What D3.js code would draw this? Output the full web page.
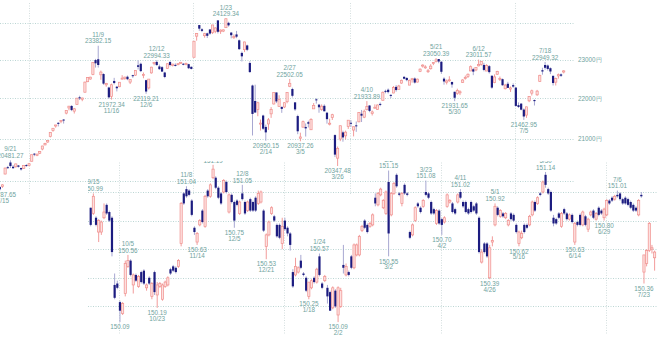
<!DOCTYPE html>
<html>
<head>
<meta charset="utf-8">
<script src="https://cdn.jsdelivr.net/npm/d3@7"></script>
<style>
  body { margin: 0; background: #fff; }
  svg { display: block; }
  text { font-family: "Liberation Sans", Arial, sans-serif; font-size: 6.3px; fill: #6fa39e; }
</style>
</head>
<body>
<svg id="chart" width="668" height="339"></svg>
<script>
// trading days shown, month by month (Sep 2017 - Jul 2018)
const sep17Days = [14,15,19,20,21,22,25,26,27,28,29];
const oct17Days = [2,3,4,5,6,10,11,12,13,16,17,18,19,20,23,24,25,26,27,30,31];
const nov17Days = [1,2,6,7,8,9,10,13,14,15,16,17,20,21,22,24,27,28,29,30];
const dec17Days = [1,4,5,6,7,8,11,12,13,14,15,18,19,20,21,22,25,26,27,28,29];
const jan18Days = [4,5,9,10,11,12,15,16,17,18,19,22,23,24,25,26,29,30,31];
const feb18Days = [1,2,5,6,7,8,9,13,14,15,16,19,20,21,22,23,26,27,28];
const mar18Days = [1,2,5,6,7,8,9,12,13,14,15,16,19,20,22,23,26,27,28,29,30];
const apr18Days = [2,3,4,5,6,9,10,11,12,13,16,17,18,19,20,23,24,25,26,27];
const may18Days = [1,2,7,8,9,10,11,14,15,16,17,18,21,22,23,24,25,28,29,30,31];
const jun18Days = [1,4,5,6,7,8,11,12,13,14,15,18,19,20,21,22,25,26,27,28,29];
const jul18Days = [2,3,4,5,6,9,10,11,12,13,17,18,19,20,23,24,25,26,27];

// upper chart: index (yen), [open, high, low, close]
const nkSep17 = [
  [19860,19880,19780,19807],[19870,19920,19840,19909],[20160,20310,20150,20299],[20320,20350,20280,20310],
  [20430,20481,20300,20347],[20330,20370,20280,20296],[20330,20400,20310,20397],[20360,20370,20310,20330],
  [20300,20310,20240,20267],[20290,20370,20280,20363],[20370,20390,20330,20356]];
const nkOct17 = [
  [20360,20420,20340,20400],[20460,20620,20450,20614],[20640,20650,20580,20626],[20600,20640,20580,20628],
  [20650,20700,20630,20690],[20750,20830,20720,20823],[20850,20900,20840,20881],[20920,20960,20900,20954],
  [21050,21160,21030,21155],[21200,21260,21170,21255],[21310,21340,21270,21336],[21390,21400,21300,21363],
  [21420,21450,21380,21448],[21470,21480,21370,21457],[21630,21700,21600,21696],[21760,21810,21700,21805],
  [21810,21830,21680,21707],[21680,21760,21620,21739],[21850,22010,21840,22008],[22030,22070,21960,22011],
  [21980,22020,21930,22011]];
const nkNov17 = [
  [22160,22430,22150,22420],[22430,22550,22420,22539],[22500,22560,22480,22548],[22620,22940,22600,22937],
  [23000,23030,22800,22913],[23020,23382,22800,22868],[22610,22720,22480,22681],[22630,22650,22350,22380],
  [22350,22400,22300,22380],[22280,22300,21990,22028],[22050,22380,21972,22351],[22450,22530,22360,22396],
  [22300,22320,22180,22261],[22300,22420,22290,22416],[22510,22600,22490,22523],[22510,22560,22480,22550],
  [22560,22590,22470,22495],[22420,22500,22370,22486],[22600,22610,22530,22597],[22600,22730,22580,22724]];
const nkDec17 = [
  [22860,22990,22750,22819],[22900,22930,22680,22707],[22600,22670,22520,22622],[22470,22480,22119,22177],
  [22270,22500,22230,22498],[22660,22820,22640,22811],[22920,22950,22860,22938],[22950,22994,22850,22866],
  [22830,22880,22740,22758],[22810,22840,22690,22694],[22670,22690,22520,22553],[22780,22910,22770,22901],
  [22950,22960,22830,22868],[22860,22900,22830,22891],[22870,22910,22830,22866],[22890,22920,22860,22902],
  [22910,22950,22900,22939],[22900,22920,22860,22892],[22900,22930,22860,22911],[22890,22900,22760,22783],
  [22820,22830,22750,22764]];
const nkJan18 = [
  [23073,23506,23065,23506],[23643,23730,23520,23714],[23948,23952,23789,23849],[23832,23864,23755,23788],
  [23656,23734,23601,23710],[23720,23739,23592,23653],[23827,23833,23682,23714],[23741,23955,23701,23951],
  [23778,23889,23722,23868],[24078,24084,23717,23763],[23777,23830,23705,23808],[23781,23829,23754,23816],
  [23876,24129,23868,24124],[24010,24040,23905,23940],[23741,23753,23583,23669],[23600,23689,23569,23631],
  [23690,23787,23588,23629],[23530,23554,23269,23291],[23189,23226,22962,23098]];
const nkFeb18 = [
  [23276,23492,23211,23486],[23391,23412,23236,23274],[22921,22967,22659,22682],[22332,22354,21078,21610],
  [21936,22353,21645,21645],[21722,21918,21553,21891],[21380,21470,21199,21382],[21570,21590,21215,21244],
  [21288,21344,20950,21154],[21362,21507,21217,21464],[21612,21781,21512,21720],[21860,22152,21848,22149],
  [22153,22153,21883,21925],[21800,22081,21796,21970],[21787,21793,21637,21736],[21784,21903,21756,21892],
  [21917,22155,21877,22153],[22313,22502,22290,22389],[22241,22275,22025,22068]];
const nkMar18 = [
  [21901,21901,21685,21724],[21557,21591,21110,21181],[21011,21147,20937,21042],[21282,21444,21276,21417],
  [21287,21373,21052,21252],[21404,21440,21275,21368],[21218,21503,21212,21469],[21737,21884,21737,21824],
  [21977,22002,21869,21968],[21843,21862,21640,21777],[21719,21849,21687,21803],[21814,21851,21676,21676],
  [21640,21662,21369,21480],[21379,21491,21325,21380],[21521,21614,21459,21591],[21088,21107,20559,20617],
  [20533,20810,20347,20766],[20992,21317,20941,21317],[21154,21196,20927,21031],[21070,21197,20985,21159],
  [21296,21454,21238,21454]];
const nkApr18 = [
  [21390,21456,21285,21388],[21211,21299,21056,21292],[21327,21422,21167,21319],[21414,21657,21403,21645],
  [21614,21710,21409,21567],[21529,21720,21505,21678],[21717,21933,21698,21794],[21822,21825,21653,21687],
  [21623,21697,21571,21660],[21757,21851,21750,21778],[21719,21845,21718,21835],[21862,21899,21803,21847],
  [21953,22177,21953,22158],[22194,22225,22131,22191],[22223,22256,22127,22162],[22091,22108,22009,22088],
  [22139,22318,22132,22278],[22296,22340,22173,22215],[22232,22348,22232,22319],[22394,22486,22377,22467]];
const nkMay18 = [
  [22556,22579,22494,22508],[22528,22546,22442,22472],[22342,22484,22342,22467],[22505,22529,22406,22508],
  [22513,22543,22383,22408],[22421,22511,22409,22497],[22702,22779,22681,22758],[22849,22888,22798,22865],
  [22818,22860,22769,22818],[22701,22761,22660,22717],[22770,22890,22747,22838],[22913,22946,22864,22930],
  [22958,23050,22934,23002],[23026,23026,22914,22960],[22954,22966,22634,22689],[22510,22546,22354,22437],
  [22417,22487,22359,22450],[22468,22573,22428,22481],[22423,22433,22276,22358],[22171,22171,21931,22018],
  [22126,22250,22091,22201]];
const nkJun18 = [
  [22143,22209,22085,22171],[22414,22496,22398,22475],[22513,22590,22484,22539],[22569,22645,22528,22625],
  [22711,22856,22708,22823],[22755,22793,22600,22694],[22737,22814,22704,22804],[22845,23011,22833,22878],
  [22885,22974,22850,22966],[22869,22925,22702,22738],[22709,22890,22707,22851],[22837,22868,22642,22680],
  [22586,22590,22249,22278],[22408,22621,22391,22555],[22625,22714,22606,22693],[22501,22565,22449,22516],
  [22496,22513,22329,22338],[22249,22373,22231,22342],[22377,22427,22267,22271],[22240,22307,22165,22270],
  [22342,22388,22273,22304]];
const nkJul18 = [
  [22278,22292,21790,21811],[21830,21899,21759,21785],[21869,21880,21701,21717],[21719,21748,21462,21546],
  [21580,21792,21511,21788],[21940,22061,21906,22052],[22136,22226,22075,22196],[21960,21975,21822,21932],
  [22093,22219,22066,22187],[22435,22610,22429,22597],[22730,22795,22613,22697],[22868,22949,22746,22794],
  [22854,22881,22721,22764],[22783,22806,22628,22697],[22584,22586,22332,22396],[22419,22536,22332,22510],
  [22581,22644,22510,22614],[22620,22646,22554,22586],[22683,22733,22646,22712]];

// lower chart: futures price, [open, high, low, close]
const jgbSep17 = [
  [150.89,150.89,150.76,150.77],[150.85,150.99,150.84,150.97],[150.82,150.83,150.76,150.77],[150.72,150.81,150.65,150.80],
  [150.72,150.80,150.70,150.79],[150.82,150.92,150.81,150.86],[150.91,150.92,150.84,150.85],[150.86,150.87,150.79,150.80],
  [150.82,150.83,150.55,150.58],[150.35,150.43,150.25,150.26],[150.36,150.38,150.32,150.33]];
const jgbOct17 = [
  [150.23,150.24,150.09,150.17],[150.15,150.23,150.14,150.22],[150.29,150.52,150.27,150.50],[150.48,150.56,150.47,150.52],
  [150.52,150.53,150.41,150.42],[150.35,150.43,150.29,150.42],[150.42,150.43,150.37,150.38],[150.34,150.42,150.33,150.41],
  [150.44,150.45,150.36,150.37],[150.45,150.46,150.35,150.36],[150.33,150.36,150.31,150.35],[150.40,150.41,150.35,150.36],
  [150.27,150.37,150.25,150.36],[150.44,150.45,150.28,150.30],[150.28,150.37,150.19,150.35],[150.34,150.37,150.33,150.36],
  [150.25,150.36,150.24,150.35],[150.34,150.38,150.33,150.37],[150.35,150.41,150.34,150.40],[150.46,150.47,150.42,150.43],
  [150.48,150.49,150.44,150.45]];
const jgbNov17 = [
  [150.47,150.48,150.43,150.44],[150.48,150.53,150.47,150.52],[150.64,150.93,150.62,150.92],[150.99,151.00,150.91,150.92],
  [151.02,151.04,150.96,150.97],[151.01,151.02,150.97,150.98],[150.94,150.95,150.83,150.84],[150.75,150.76,150.70,150.72],
  [150.65,150.72,150.63,150.71],[150.77,150.81,150.76,150.80],[150.87,150.88,150.78,150.79],[150.76,150.98,150.75,150.97],
  [151.01,151.02,150.96,150.97],[150.97,151.06,150.96,151.05],[151.10,151.19,151.09,151.16],[151.10,151.11,151.02,151.03],
  [151.03,151.04,150.95,150.96],[150.99,151.00,150.91,150.92],[151.00,151.09,150.99,151.08],[151.07,151.08,150.99,151.00]];
const jgbDec17 = [
  [150.86,150.99,150.85,150.98],[150.98,150.99,150.92,150.93],[150.93,150.94,150.75,150.80],[150.94,150.95,150.90,150.91],
  [150.85,150.94,150.84,150.93],[150.99,151.05,150.94,150.95],[150.93,150.94,150.84,150.85],[150.87,150.94,150.86,150.93],
  [150.95,150.96,150.86,150.87],[150.93,150.94,150.86,150.87],[150.96,150.97,150.86,150.87],[150.92,151.01,150.91,150.99],
  [150.93,151.01,150.92,151.00],[150.87,150.88,150.72,150.73],[150.62,150.71,150.53,150.70],[150.70,150.80,150.69,150.79],
  [150.85,150.90,150.84,150.89],[150.83,150.84,150.79,150.80],[150.77,150.78,150.68,150.69],[150.77,150.78,150.67,150.68],
  [150.64,150.82,150.60,150.76]];
const jgbJan18 = [
  [150.80,150.82,150.73,150.74],[150.75,150.76,150.69,150.71],[150.71,150.72,150.59,150.63],[150.44,150.46,150.33,150.34],
  [150.42,150.54,150.41,150.48],[150.44,150.48,150.43,150.47],[150.52,150.56,150.46,150.47],[150.43,150.44,150.41,150.42],
  [150.40,150.41,150.30,150.31],[150.27,150.37,150.25,150.37],[150.33,150.39,150.32,150.38],[150.40,150.41,150.36,150.37],
  [150.37,150.47,150.36,150.46],[150.55,150.57,150.41,150.42],[150.36,150.37,150.32,150.33],[150.38,150.42,150.37,150.41],
  [150.33,150.35,150.22,150.27],[150.30,150.31,150.17,150.17],[150.19,150.34,150.18,150.33]];
const jgbFeb18 = [
  [150.31,150.32,150.19,150.20],[150.14,150.34,150.09,150.33],[150.20,150.33,150.19,150.31],[150.49,150.63,150.43,150.47],
  [150.42,150.50,150.41,150.48],[150.44,150.45,150.41,150.42],[150.55,150.56,150.46,150.47],[150.47,150.64,150.46,150.63],
  [150.56,150.64,150.55,150.63],[150.56,150.70,150.55,150.69],[150.73,150.77,150.72,150.76],[150.80,150.81,150.74,150.75],
  [150.77,150.78,150.71,150.72],[150.76,150.79,150.75,150.78],[150.77,150.85,150.76,150.84],[150.96,150.99,150.90,150.92],
  [150.91,151.00,150.90,150.99],[150.98,151.03,150.97,151.02],[150.89,150.95,150.88,150.94]];
const jgbMar18 = [
  [150.85,151.01,150.84,151.00],[151.07,151.15,150.55,150.71],[150.84,151.00,150.83,150.99],[150.99,151.07,150.98,151.06],
  [151.12,151.13,151.03,151.04],[150.99,151.00,150.97,150.98],[150.92,151.00,150.90,150.99],[151.05,151.06,150.98,150.99],
  [150.99,151.00,150.97,150.98],[150.72,150.73,150.67,150.68],[150.70,150.78,150.69,150.77],[150.80,150.90,150.79,150.89],
  [150.92,150.93,150.89,150.90],[150.89,150.90,150.85,150.86],[150.90,150.95,150.89,150.94],[151.00,151.08,150.97,150.98],
  [150.99,151.00,150.95,150.96],[150.93,150.94,150.84,150.85],[150.88,150.89,150.84,150.85],[150.78,150.88,150.77,150.87],
  [150.87,150.88,150.77,150.78]];
const jgbApr18 = [
  [150.81,150.82,150.70,150.77],[150.79,150.83,150.78,150.82],[150.90,150.99,150.89,150.98],[150.93,150.95,150.92,150.94],
  [150.92,150.93,150.85,150.86],[150.88,150.89,150.84,150.85],[150.93,150.99,150.92,150.98],[151.00,151.02,150.95,150.96],
  [150.93,150.94,150.89,150.90],[150.93,150.94,150.85,150.86],[150.88,150.89,150.84,150.85],[150.93,150.94,150.85,150.86],
  [150.90,150.91,150.86,150.87],[150.92,150.93,150.84,150.85],[150.82,150.83,150.57,150.58],[150.51,150.60,150.50,150.58],
  [150.64,150.65,150.57,150.58],[150.64,150.65,150.54,150.55],[150.40,150.63,150.39,150.61],[150.65,150.69,150.62,150.66]];
const jgbMay18 = [
  [150.77,150.92,150.76,150.90],[150.89,150.90,150.83,150.84],[150.83,150.88,150.82,150.87],[150.85,150.86,150.82,150.83],
  [150.82,150.86,150.81,150.85],[150.77,150.81,150.76,150.80],[150.85,150.86,150.80,150.81],[150.84,150.85,150.79,150.80],
  [150.77,150.78,150.71,150.72],[150.64,150.73,150.62,150.72],[150.68,150.73,150.67,150.71],[150.77,150.78,150.71,150.72],
  [150.77,150.78,150.74,150.75],[150.77,150.84,150.76,150.83],[150.84,150.94,150.83,150.93],[150.93,150.94,150.86,150.87],
  [150.92,150.97,150.91,150.96],[150.99,151.00,150.97,150.98],[151.00,151.08,150.99,151.07],[151.12,151.14,151.03,151.05],
  [151.02,151.03,150.98,150.99]];
const jgbJun18 = [
  [151.00,151.01,150.86,150.87],[150.82,150.84,150.76,150.78],[150.81,150.82,150.77,150.78],[150.85,150.86,150.81,150.82],
  [150.76,150.86,150.75,150.85],[150.88,150.89,150.84,150.85],[150.85,150.86,150.80,150.81],[150.81,150.85,150.80,150.84],
  [150.84,150.85,150.78,150.79],[150.65,150.79,150.63,150.78],[150.79,150.80,150.76,150.77],[150.84,150.85,150.76,150.77],
  [150.77,150.87,150.76,150.86],[150.83,150.84,150.76,150.77],[150.74,150.82,150.72,150.81],[150.84,150.87,150.83,150.86],
  [150.87,150.88,150.81,150.82],[150.81,150.86,150.80,150.85],[150.89,150.90,150.83,150.84],[150.87,150.88,150.84,150.85],
  [150.82,150.89,150.80,150.88]];
const jgbJul18 = [
  [150.84,150.95,150.83,150.94],[150.94,150.95,150.91,150.92],[150.96,150.97,150.93,150.94],[150.95,150.98,150.94,150.97],
  [150.98,151.01,150.96,150.97],[150.99,151.00,150.94,150.95],[150.95,150.96,150.91,150.92],[150.96,150.97,150.91,150.92],
  [150.95,150.96,150.90,150.91],[150.93,150.94,150.88,150.89],[150.91,150.92,150.86,150.87],[150.89,150.90,150.86,150.87],
  [150.84,150.95,150.83,150.94],[150.98,151.00,150.96,150.97],[150.44,150.56,150.36,150.56],[150.50,150.60,150.48,150.59],
  [150.59,150.79,150.58,150.78],[150.60,150.63,150.57,150.61],[150.54,150.59,150.45,150.58]];

// peak / trough annotations
const nkLabelDates  = ["9/21","11/9","11/16","12/6","12/12","1/23","2/14","2/27","3/5","3/26","4/10","5/21","5/30","6/12","7/5","7/18"];
const nkLabelValues = [20481.27,23382.15,21972.34,22119.21,22994.33,24129.34,20950.15,22502.05,20937.26,20347.48,21933.89,23050.39,21931.65,23011.57,21462.95,22949.32];
const nkLabelKinds  = ["H","H","L","L","H","H","L","H","L","L","H","H","L","H","L","H"];
const jgbLabelDates  = ["9/15","10/5","10/2","10/23","11/8","11/14","11/22","12/5","12/8","12/21","1/18","1/24","2/2","3/2","3/2","3/23","4/2","4/11","4/26","5/1","5/16","5/30","6/14","6/29","7/6","7/23"];
const jgbLabelValues = [150.99,150.56,150.09,150.19,151.04,150.63,151.19,150.75,151.05,150.53,150.25,150.57,150.09,151.15,150.55,151.08,150.70,151.02,150.39,150.92,150.62,151.14,150.63,150.80,151.01,150.36];
const jgbLabelKinds  = ["H","H","L","L","H","L","H","L","H","L","L","H","L","H","L","H","L","H","L","H","L","H","L","L","H","L"];
const jgbLabelNoDate = ["10/2"];
const nkEdgeLabel = ["7/15", 19787.65];

const nkTicks = [24000, 23000, 22000, 21000, 20000];
const nkTickLabels = ["", "23000円", "22000円", "21000円", ""];
const jgbTicks = [151.0, 150.8, 150.6, 150.4, 150.2];
const quarterStarts = ["2017-10-02", "2018-01-04", "2018-04-02", "2018-07-02"];

// assemble rows
const months = [
  ["2017-09", sep17Days, nkSep17, jgbSep17], ["2017-10", oct17Days, nkOct17, jgbOct17],
  ["2017-11", nov17Days, nkNov17, jgbNov17], ["2017-12", dec17Days, nkDec17, jgbDec17],
  ["2018-01", jan18Days, nkJan18, jgbJan18], ["2018-02", feb18Days, nkFeb18, jgbFeb18],
  ["2018-03", mar18Days, nkMar18, jgbMar18], ["2018-04", apr18Days, nkApr18, jgbApr18],
  ["2018-05", may18Days, nkMay18, jgbMay18], ["2018-06", jun18Days, nkJun18, jgbJun18],
  ["2018-07", jul18Days, nkJul18, jgbJul18]
];
const dates = [], nkRows = [], jgbRows = [];
const keyToDate = {};
months.forEach(([ym, ds, nk, jg]) => {
  ds.forEach((d, i) => {
    const date = ym + "-" + String(d).padStart(2, "0");
    dates.push(date);
    keyToDate[(+ym.slice(5)) + "/" + d] = date;
    if (nk[i]) nkRows.push({ date, o: nk[i][0], h: nk[i][1], l: nk[i][2], c: nk[i][3] });
    if (jg[i]) jgbRows.push({ date, o: jg[i][0], h: jg[i][1], l: jg[i][2], c: jg[i][3] });
  });
});

const svg = d3.select("#chart");
const step = 2.66;
const span = step * (dates.length - 1);
const xTop = d3.scalePoint().domain(dates).range([-0.2, -0.2 + span]);
const xLow = d3.scalePoint().domain(dates).range([90.7, 90.7 + span]);
const yTop = d3.scaleLog().domain([20000, 24000]).range([180.9, 23.2]);
const yLow = d3.scaleLinear().domain([150.0, 151.0]).range([335, 192]);

const gridColor = "#bcd6d4";
const navy = "#1c1c80", navyWick = "#9d9dcc";
const pinkLine = "#f0908e", pinkFill = "#fde0df";

// clip for the lower chart
svg.append("defs").append("clipPath").attr("id", "lowClip")
  .append("rect").attr("x", 88).attr("y", 161).attr("width", 580).attr("height", 175);

// grid: upper chart
const gTopGrid = svg.append("g");
gTopGrid.selectAll("line.h").data(nkTicks).enter().append("line")
  .attr("x1", 0).attr("x2", 575)
  .attr("y1", d => Math.round(yTop(d)) + 0.5).attr("y2", d => Math.round(yTop(d)) + 0.5)
  .attr("stroke", gridColor).attr("stroke-dasharray", "1,1.5");
gTopGrid.selectAll("line.v").data(quarterStarts).enter().append("line")
  .attr("x1", d => Math.round(xTop(d) - 0.5) + 0.5).attr("x2", d => Math.round(xTop(d) - 0.5) + 0.5)
  .attr("y1", 3).attr("y2", 195)
  .attr("stroke", "#d4dede").attr("stroke-dasharray", "1,1.5");
gTopGrid.selectAll("text").data(nkTicks.filter((d, i) => nkTickLabels[i])).enter().append("text")
  .attr("x", 578).attr("y", d => yTop(d) + 2.2)
  .text(d => nkTickLabels[nkTicks.indexOf(d)]);

// grid: lower chart
const gLow = svg.append("g").attr("clip-path", "url(#lowClip)");
gLow.selectAll("line.h").data(jgbTicks).enter().append("line")
  .attr("x1", 88).attr("x2", 658)
  .attr("y1", d => Math.round(yLow(d)) + 0.5).attr("y2", d => Math.round(yLow(d)) + 0.5)
  .attr("stroke", gridColor).attr("stroke-dasharray", "1,1.5");
gLow.selectAll("line.v").data(quarterStarts).enter().append("line")
  .attr("x1", d => Math.round(xLow(d) - 0.5) + 0.5).attr("x2", d => Math.round(xLow(d) - 0.5) + 0.5)
  .attr("y1", 160).attr("y2", 334)
  .attr("stroke", "#d4dede").attr("stroke-dasharray", "1,1.5");

function drawCandles(g, rows, X, Y) {
  const c = g.selectAll("g.candle").data(rows).enter().append("g").attr("class", "candle");
  c.append("line")
    .attr("x1", d => X(d.date)).attr("x2", d => X(d.date))
    .attr("y1", d => Y(d.h)).attr("y2", d => Y(d.l))
    .attr("stroke", d => d.c >= d.o ? pinkLine : navyWick).attr("stroke-width", 0.9);
  c.append("rect")
    .attr("x", d => X(d.date) - 1.1)
    .attr("width", 2.2)
    .attr("y", d => Y(Math.max(d.o, d.c)))
    .attr("height", d => Math.max(1, Math.abs(Y(d.o) - Y(d.c))))
    .attr("fill", d => d.c >= d.o ? pinkFill : navy)
    .attr("stroke", d => d.c >= d.o ? pinkLine : "none")
    .attr("stroke-width", 0.7);
}

function drawLabels(g, ds, vs, ks, X, Y, noDate) {
  const items = ds.map((d, i) => ({ date: keyToDate[d], key: d, v: vs[i], k: ks[i] }))
    .filter(d => d.date);
  const t = g.selectAll("g.lab").data(items).enter().append("g").attr("class", "lab");
  t.filter(d => !(noDate || []).includes(d.key)).append("text").attr("text-anchor", "middle")
    .attr("x", d => X(d.date))
    .attr("y", d => d.k === "H" ? Y(d.v) - 9 : Y(d.v) + 13)
    .text(d => d.key);
  t.append("text").attr("text-anchor", "middle")
    .attr("x", d => X(d.date))
    .attr("y", d => d.k === "H" ? Y(d.v) - 2.3 : Y(d.v) + 7.2)
    .text(d => d.v.toFixed(2));
}

// upper chart
const gTop = svg.append("g");
drawCandles(gTop, nkRows, xTop, yTop);
drawLabels(gTop, nkLabelDates, nkLabelValues, nkLabelKinds, xTop, yTop);
// trough label cut by the left edge
const ex = xTop(dates[0]) + 3;
gTop.append("text").attr("text-anchor", "middle").attr("x", ex).attr("y", yTop(nkEdgeLabel[1]) + 7.2).text(nkEdgeLabel[1].toFixed(2));
gTop.append("text").attr("text-anchor", "middle").attr("x", ex).attr("y", yTop(nkEdgeLabel[1]) + 13).text(nkEdgeLabel[0]);

// lower chart
drawCandles(gLow, jgbRows, xLow, yLow);
drawLabels(gLow, jgbLabelDates, jgbLabelValues, jgbLabelKinds, xLow, yLow, jgbLabelNoDate);
</script>
</body>
</html>
